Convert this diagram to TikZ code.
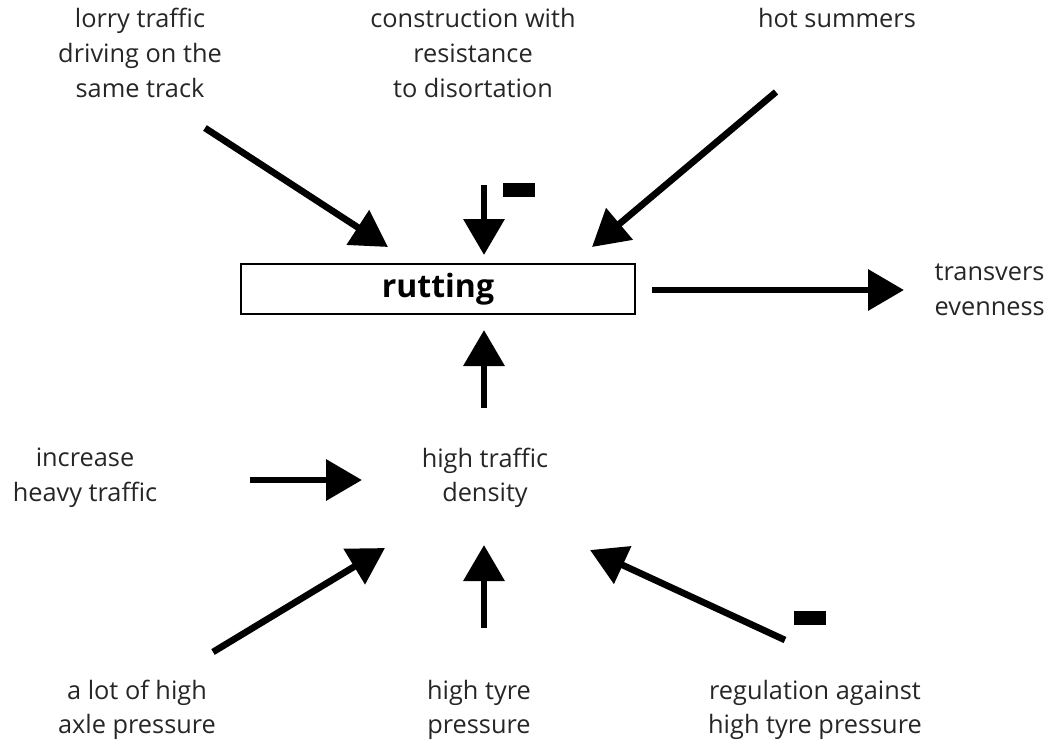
\documentclass[tikz,border=0pt]{standalone}
\usepackage{fontspec}
\setmainfont{Open Sans}
\usetikzlibrary{arrows.meta}

\begin{document}
\begin{tikzpicture}[x=0.75pt,y=-0.75pt,
  cause/.style={align=center,text=black!85,font=\fontsize{19}{26}\selectfont},
  effect/.style={line width=5pt,-{Triangle[length=27pt,width=30pt]}},
  minus/.style={fill=black,inner sep=0pt,minimum width=24pt,minimum height=10pt}]
  \useasboundingbox (0,0) rectangle (1051,744);
  % central nodes
  \node (rutting) at (438,289) [draw,line width=1.5pt,minimum width=296pt,minimum height=37pt,
    font=\fontsize{24}{28}\selectfont\bfseries] {rutting};
  \node (density) at (485,478) [cause] {high traffic\\density};
  % causes and effects
  \node (lorry)   at (140,53)  [cause] {lorry traffic\\driving on the\\same track};
  \node (constr)  at (473,53)  [cause] {construction with\\resistance\\to disortation};
  \node (summers) at (837,18)  [cause] {hot summers};
  \node (evenness) at (930,290) [cause,align=left,anchor=west] {transvers\\evenness};
  \node (increase) at (85,478) [cause] {increase\\heavy traffic};
  \node (axle)    at (137,710) [cause] {a lot of high\\axle pressure};
  \node (tyre)    at (479,710) [cause] {high tyre\\pressure};
  \node (regul)   at (815,710) [cause] {regulation against\\high tyre pressure};
  % arrow ends
  \coordinate (lorry-out)    at (205,128);
  \coordinate (lorry-in)     at (388,247);
  \coordinate (constr-out)   at (484,185);
  \coordinate (constr-in)    at (484,255);
  \coordinate (summers-out)  at (776,92);
  \coordinate (summers-in)   at (592,247);
  \coordinate (rutting-out)  at (652,290);
  \coordinate (evenness-in)  at (904,290);
  \coordinate (density-out)  at (484,408);
  \coordinate (rutting-in)   at (484,330);
  \coordinate (increase-out) at (250,480);
  \coordinate (increase-in)  at (362,480);
  \coordinate (axle-out)     at (213,652);
  \coordinate (axle-in)      at (385,548);
  \coordinate (tyre-out)     at (484,628);
  \coordinate (tyre-in)      at (484,545);
  \coordinate (regul-out)    at (785,640);
  \coordinate (regul-in)     at (590,550);
  \draw[effect] (lorry-out) -- (lorry-in);
  \draw[effect] (constr-out) -- (constr-in);
  \draw[effect] (summers-out) -- (summers-in);
  \draw[effect] (rutting-out) -- (evenness-in);
  \draw[effect] (density-out) -- (rutting-in);
  \draw[effect] (increase-out) -- (increase-in);
  \draw[effect] (axle-out) -- (axle-in);
  \draw[effect] (tyre-out) -- (tyre-in);
  \draw[effect] (regul-out) -- (regul-in);
  % negative influence
  \node (minus1) at (519,190) [minus] {};
  \node (minus2) at (810,618) [minus] {};
\end{tikzpicture}
\end{document}
